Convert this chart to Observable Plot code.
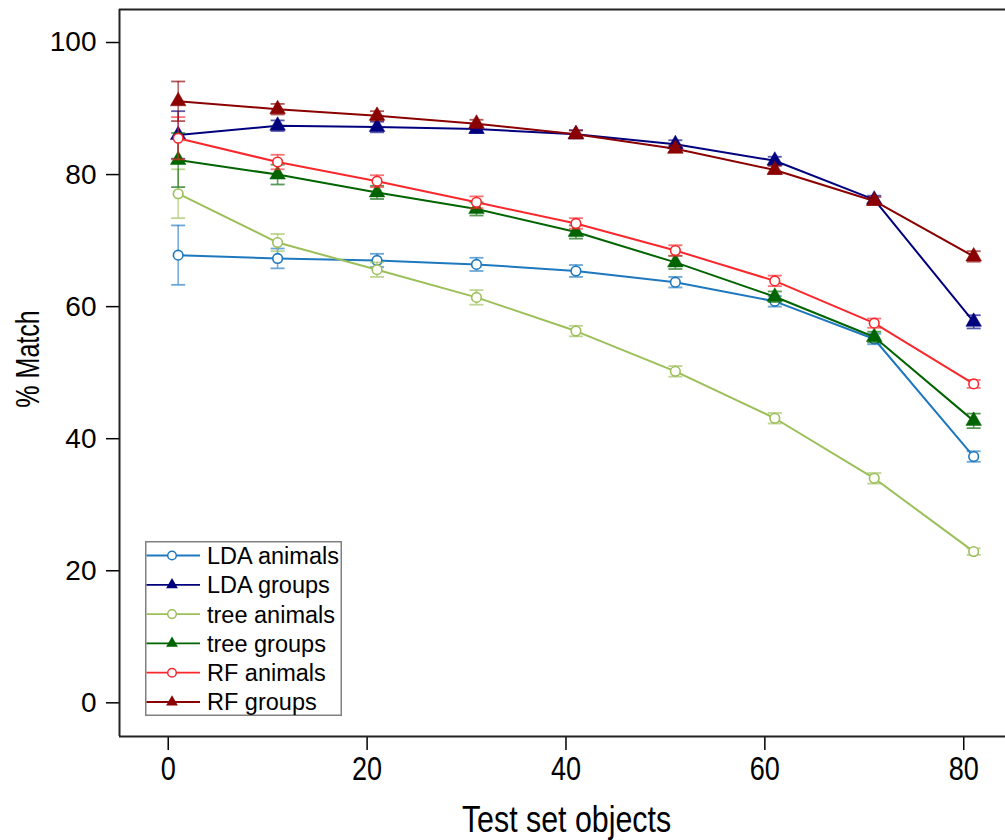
<!DOCTYPE html>
<html>
<head>
<meta charset="utf-8">
<script src="https://cdn.jsdelivr.net/npm/d3@7"></script>
<script src="https://cdn.jsdelivr.net/npm/@observablehq/plot@0.6"></script>
<style>
  body { margin: 0; background: #fff; }
  #wrap { position: relative; width: 1005px; height: 840px; overflow: hidden; }
  #legend { position: absolute; left: 145px; top: 541px; }
  svg text { font-family: "Liberation Sans", Arial, sans-serif; }
  g[aria-label="x-axis tick label"] text { font-size: 33px; }
  g[aria-label="y-axis tick label"] text { font-size: 28px; }
</style>
</head>
<body>
<div id="wrap"><div id="chart"></div><div id="legend"></div></div>
<script>
// ---- data ----
const testSetObjects = [1, 11, 21, 31, 41, 51, 61, 71, 81];
const xTicks = [0, 20, 40, 60, 80];
const yTicks = [0, 20, 40, 60, 80, 100];
const xTitle = "Test set objects";
const yTitle = "% Match";
const seriesNames = ["LDA animals", "LDA groups", "tree animals", "tree groups", "RF animals", "RF groups"];
const seriesColors = ["#1e78be", "#00007f", "#9bbf59", "#006400", "#f8282d", "#8b0000"];
const seriesSymbols = ["circle", "triangle", "circle", "triangle", "circle", "triangle"];

const ldaAnimals     = [67.8, 67.3, 67.0, 66.4, 65.4, 63.7, 60.8, 55.1, 37.3];
const ldaAnimalsErr  = [4.5, 1.5, 1.0, 1.0, 0.9, 0.8, 0.8, 0.8, 0.8];
const ldaGroups      = [86.0, 87.4, 87.2, 86.9, 86.1, 84.6, 82.1, 76.2, 57.7];
const ldaGroupsErr   = [3.6, 0.8, 0.8, 0.6, 0.6, 0.6, 0.6, 0.6, 1.0];
const treeAnimals    = [77.1, 69.7, 65.6, 61.4, 56.3, 50.2, 43.1, 34.0, 22.9];
const treeAnimalsErr = [3.7, 1.3, 1.1, 1.1, 0.8, 0.8, 0.8, 0.8, 0.5];
const treeGroups     = [82.2, 80.0, 77.3, 74.8, 71.3, 66.7, 61.5, 55.4, 42.7];
const treeGroupsErr  = [4.1, 1.5, 1.0, 1.0, 1.0, 1.0, 0.8, 0.8, 1.1];
const rfAnimals      = [85.5, 81.9, 79.0, 75.8, 72.6, 68.5, 63.9, 57.5, 48.3];
const rfAnimalsErr   = [3.2, 1.1, 0.9, 0.9, 0.8, 0.8, 0.8, 0.7, 0.6];
const rfGroups       = [91.1, 89.9, 88.9, 87.7, 86.1, 83.9, 80.7, 76.0, 67.6];
const rfGroupsErr    = [3.0, 0.8, 0.7, 0.6, 0.6, 0.5, 0.6, 0.6, 0.8];

const seriesValues = [ldaAnimals, ldaGroups, treeAnimals, treeGroups, rfAnimals, rfGroups];
const seriesErrors = [ldaAnimalsErr, ldaGroupsErr, treeAnimalsErr, treeGroupsErr, rfAnimalsErr, rfGroupsErr];

const xDomain = [-4.9, 84.2];
const yDomain = [-5.1, 105.0];

// ---- build ----
const cap = { draw(ctx) { ctx.moveTo(-7, 0); ctx.lineTo(7, 0); } };

const seriesMarks = seriesNames.flatMap((name, si) => {
  const color = seriesColors[si];
  const rows = testSetObjects.map((x, i) => ({
    x, y: seriesValues[si][i],
    lo: seriesValues[si][i] - seriesErrors[si][i],
    hi: seriesValues[si][i] + seriesErrors[si][i]
  }));
  const isTri = seriesSymbols[si] === "triangle";
  return [
    Plot.ruleX(rows, { x: "x", y1: "lo", y2: "hi", stroke: color, strokeOpacity: 0.6, strokeWidth: 1.6 }),
    Plot.dot(rows, { x: "x", y: "lo", symbol: cap, r: 3, fill: "none", stroke: color, strokeOpacity: 0.65, strokeWidth: 1.8 }),
    Plot.dot(rows, { x: "x", y: "hi", symbol: cap, r: 3, fill: "none", stroke: color, strokeOpacity: 0.65, strokeWidth: 1.8 }),
    Plot.line(rows, { x: "x", y: "y", stroke: color, strokeWidth: 2 }),
    isTri
      ? Plot.dot(rows, { x: "x", y: "y", symbol: "triangle", r: 5.8, fill: color, stroke: color, strokeWidth: 0.5 })
      : Plot.dot(rows, { x: "x", y: "y", symbol: "circle", r: 4.8, fill: "white", stroke: color, strokeWidth: 1.6 })
  ];
});

const chart = Plot.plot({
  width: 1005,
  height: 840,
  marginLeft: 119,
  marginRight: 0,
  marginTop: 9,
  marginBottom: 104,
  style: { background: "white", color: "black", fontFamily: "Liberation Sans, Arial, sans-serif" },
  x: { domain: xDomain },
  y: { domain: yDomain },
  marks: [
    Plot.axisX(xTicks, { tickSize: 14, tickPadding: 6, strokeWidth: 1.5, label: null }),
    Plot.axisY(yTicks, { tickSize: 13, tickPadding: 10, strokeWidth: 1.5, label: null }),
    Plot.text([xTitle], { text: d => d, frameAnchor: "bottom", textAnchor: "middle", lineAnchor: "middle", dy: 84, dx: 4, fontSize: 37, fill: "black", ariaLabel: () => "x-title" }),
    Plot.text([yTitle], { text: d => d, frameAnchor: "left", textAnchor: "middle", lineAnchor: "middle", rotate: -90, dx: -91, dy: -14, fontSize: 33, fill: "black", ariaLabel: () => "y-title" }),
    Plot.ruleY([yDomain[1]], { stroke: "#222", strokeWidth: 2 }),
    Plot.ruleY([yDomain[0]], { stroke: "#222", strokeWidth: 2 }),
    Plot.ruleX([xDomain[0]], { stroke: "#222", strokeWidth: 2 }),
    ...seriesMarks
  ]
});
document.getElementById("chart").appendChild(chart);

// condense the narrow-looking texts (the reference uses a narrow sans face)
function condense(selector, factor) {
  d3.select(chart).selectAll(selector).each(function () {
    const len = this.getComputedTextLength();
    if (len > 0) {
      this.setAttribute("textLength", (len * factor).toFixed(1));
      this.setAttribute("lengthAdjust", "spacingAndGlyphs");
    }
  });
}
condense('g[aria-label="x-axis tick label"] text', 0.82);
condense('text[aria-label="x-title"], [aria-label="x-title"] text', 0.82);
condense('text[aria-label="y-title"], [aria-label="y-title"] text', 0.76);

// ---- legend ----
const lw = 197, lh = 175, rowH = 29.3, row0 = 14.5;
const lsvg = d3.select("#legend").append("svg").attr("width", lw).attr("height", lh)
  .style("font-family", "Liberation Sans, Arial, sans-serif");
lsvg.append("rect").attr("x", 0.75).attr("y", 0.75).attr("width", lw - 1.5).attr("height", lh - 1.5)
  .attr("fill", "white").attr("stroke", "#808080").attr("stroke-width", 1.5);
seriesNames.forEach((name, i) => {
  const cy = row0 + i * rowH;
  const g = lsvg.append("g");
  g.append("line").attr("x1", 1.5).attr("x2", 55).attr("y1", cy).attr("y2", cy)
    .attr("stroke", seriesColors[i]).attr("stroke-width", 1.8);
  if (seriesSymbols[i] === "triangle") {
    g.append("path").attr("d", d3.symbol(d3.symbolTriangle, 60)())
      .attr("transform", `translate(27,${cy})`).attr("fill", seriesColors[i]);
  } else {
    g.append("circle").attr("cx", 27).attr("cy", cy).attr("r", 4.3)
      .attr("fill", "white").attr("stroke", seriesColors[i]).attr("stroke-width", 1.5);
  }
  g.append("text").attr("x", 62).attr("y", cy).attr("dy", "0.36em")
    .attr("font-size", 23.5).attr("fill", "black").text(name);
});
</script>
</body>
</html>
